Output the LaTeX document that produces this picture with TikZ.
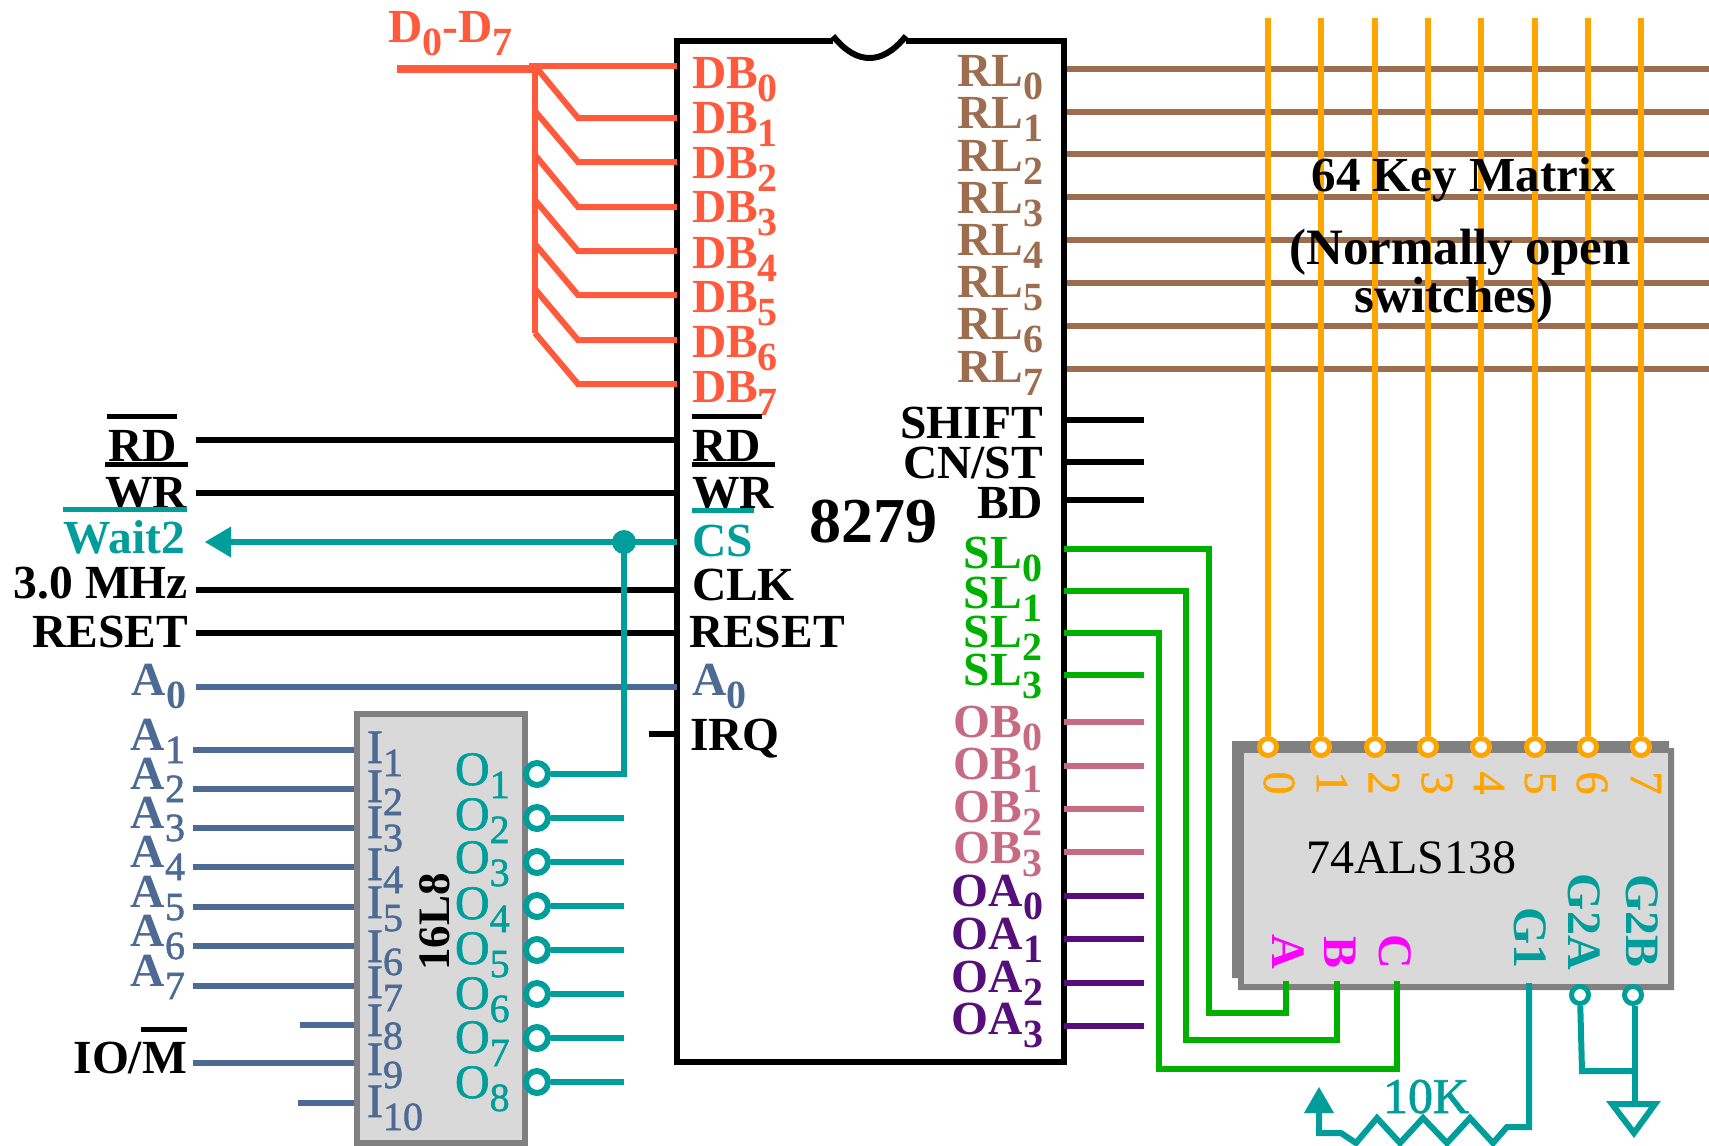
\documentclass[tikz,border=0pt]{standalone}
\usepackage{fontspec}
\setmainfont{Liberation Serif}
\newfontfamily\semifont[FakeBold=1.3]{Liberation Serif}
\definecolor{cred}{HTML}{FF5A3C}
\definecolor{cbrown}{HTML}{9C6D4E}
\definecolor{cteal}{HTML}{009E9A}
\definecolor{cblue}{HTML}{4C6A94}
\definecolor{cgreen}{HTML}{00B000}
\definecolor{cpink}{HTML}{C76B85}
\definecolor{cpurple}{HTML}{560E7A}
\definecolor{corange}{HTML}{FFA500}
\definecolor{cmag}{HTML}{FF00FF}
\definecolor{cgray}{HTML}{808080}
\definecolor{cfill}{HTML}{D9D9D9}
\newcommand\fsz[1]{\fontsize{#1}{#1}\selectfont}
\newcommand\sbs[1]{\raisebox{-13pt}{\fsz{40}#1}}
\newcommand\sbl[1]{\raisebox{-13pt}{\semifont\mdseries\fsz{40}#1}}
\tikzset{
  wire/.style={line width=6pt},
  lab/.style={inner sep=0pt,outer sep=0pt,font=\fsz{47.5}\bfseries},
  labL/.style={lab,anchor=base west},
  labR/.style={lab,anchor=base east},
  reg/.style={inner sep=0pt,outer sep=0pt,font=\fsz{48}},
  regs/.style={inner sep=0pt,outer sep=0pt,font=\semifont\fsz{48}},
  bubble/.style={circle,inner sep=0pt,minimum size=22pt,line width=6pt,fill=white},
  smallbub/.style={circle,inner sep=0pt,minimum size=17pt,line width=5pt,fill=white},
  tag/.style={line width=5pt}
}
\begin{document}
\begin{tikzpicture}[x=1pt,y=-1pt]
\useasboundingbox (0,0) rectangle (1709,1146);
\fill[white] (0,0) rectangle (1709,1146);
% ---- brown rows
\foreach \i/\y/\b in {0/69/86,1/112/128,2/154/171,3/197/213,4/240/255,5/283/297,6/326/339,7/369/382}{
  \coordinate (rlL\i) at (1064,\y);
  \coordinate (rlR\i) at (1709,\y);
  \draw[wire,cbrown] (rlL\i) -- (rlR\i);
  \node[labR,cbrown] (rl\i) at (1043,\b) {RL\sbs{\i}};
}
% ---- 74ALS138 body
\fill[cgray] (1232,741) -- (1669,741) -- (1669,748) -- (1674,748) -- (1674,990) -- (1238,990) -- (1238,978) -- (1232,978) -- cycle;
\fill[cfill] (1244,753) rectangle (1668,984);
\node[reg,anchor=base west] (dec) at (1306,873) {74ALS138};
% ---- orange columns
\foreach \i/\x/\t in {0/1268/1279,1/1321/1332,2/1375/1384,3/1428/1437,4/1481/1489,5/1535/1540,6/1588/1592,7/1641/1646}{
  \coordinate (colT\i) at (\x,18);
  \node[smallbub,draw=corange] (col\i) at (\x,747) {};
  \draw[wire,corange] (colT\i) -- (col\i);
  \node[inner sep=0pt,rotate=-90,text=corange,font=\semifont\fsz{46}] (dig\i) at (\t,783) {\i};
}
% ---- matrix caption
\node[inner sep=0pt,anchor=base,font=\fsz{49}\bfseries] (cap1) at (1464,191) {64 Key Matrix};
\node[inner sep=0pt,anchor=base,font=\fsz{51}\bfseries] (cap2) at (1460,264) {(Normally open};
\node[inner sep=0pt,anchor=base,font=\fsz{51}\bfseries] (cap3) at (1454,312) {switches)};
% ---- 8279 chip
\draw[line width=6pt,fill=none,line join=miter] (833,41) -- (677,41) -- (677,1062) -- (1064,1062) -- (1064,41) -- (906,41);
\draw[line width=6pt] (833,36) .. controls (846,52) and (858,58) .. (869.5,58) .. controls (881,58) and (893,52) .. (906,36);
\node[inner sep=0pt,anchor=base east,font=\fsz{64}\bfseries] (chip) at (937.5,542) {8279};
% ---- data bus
\coordinate (busL) at (397,69);
\coordinate (busJ) at (535,69);
\draw[line width=8pt,cred] (busL) -- (busJ);
\node[labL,cred] (dd) at (388,42) {D\sbs{0}-D\sbs{7}};
\coordinate (db0a) at (529,66);
\coordinate (db0b) at (677,66);
\draw[wire,cred] (db0a) -- (db0b);
\node[labL,cred] (db0) at (692,88) {DB\sbs{0}};
\coordinate (vtop) at (535,66);
\coordinate (vbot) at (535,333);
\draw[wire,cred] (vtop) -- (vbot);
\foreach \i/\s/\y/\b in {1/66/118/133,2/111/162/178,3/155/207/222,4/200/251/268,5/244/295/312,6/289/340/357,7/333/384/402}{
  \coordinate (dbS\i) at (535,\s);
  \coordinate (dbM\i) at (578,\y);
  \coordinate (dbE\i) at (677,\y);
  \draw[wire,cred,line join=miter] (dbS\i) -- (dbM\i) -- (dbE\i);
  \node[labL,cred] (db\i) at (692,\b) {DB\sbs{\i}};
}
% ---- left bus labels and wires
\foreach \n/\y in {rd/440,wr/493,clk/589.5,rst/633}{
  \coordinate (\n L) at (196,\y);
  \coordinate (\n R) at (677,\y);
  \draw[wire] (\n L) -- (\n R);
}
\node[labR] (lrd) at (177,461) {RD};
\node[labL] (prd) at (692,461) {RD};
\node[labR] (lwr) at (187,508) {WR};
\node[labL] (pwr) at (692,508) {WR};
\coordinate (a) at (107,416); \coordinate (b) at (177,416); \draw[tag] (a) -- (b);
\coordinate (a) at (105,464); \coordinate (b) at (188,464); \draw[tag] (a) -- (b);
\coordinate (a) at (692,416); \coordinate (b) at (762,416); \draw[tag] (a) -- (b);
\coordinate (a) at (692,464); \coordinate (b) at (775,464); \draw[tag] (a) -- (b);
\coordinate (a) at (63,509); \coordinate (b) at (187,509); \draw[tag,cteal] (a) -- (b);
\coordinate (a) at (692,510); \coordinate (b) at (754,510); \draw[tag,cteal] (a) -- (b);
\node[labR,cteal] (lwait) at (185,553) {Wait2};
\node[labL,cteal] (pcs) at (692,556) {CS};
\node[labR] (lclk) at (188,598) {3.0 MHz};
\node[labL] (pclk) at (692,600) {CLK};
\node[labR] (lrst) at (188,647) {RESET};
\node[labL] (prst) at (689,647) {RESET};
\coordinate (a0L) at (196,687);
\coordinate (a0R) at (677,687);
\draw[wire,cblue] (a0L) -- (a0R);
\node[labR,cblue] (la0) at (186,695) {A\sbs{0}};
\node[labL,cblue] (pa0) at (692,695) {A\sbs{0}};
\coordinate (irqL) at (649,734);
\coordinate (irqR) at (677,734);
\draw[wire] (irqL) -- (irqR);
\node[labL] (pirq) at (690,750) {IRQ};
% ---- right black pins
\foreach \n/\t/\y/\b in {sft/SHIFT/420/438,cst/CN\slash ST/462/478,bd/BD/500/518}{
  \coordinate (\n L) at (1064,\y);
  \coordinate (\n R) at (1144,\y);
  \draw[wire] (\n L) -- (\n R);
  \node[labR] (\n) at (1043,\b) {\t};
}
% ---- SL labels
\foreach \i/\b in {0/568,1/608,2/647,3/685}{
  \node[labR,cgreen] (sl\i) at (1042,\b) {SL\sbs{\i}};
}
% ---- OB, OA
\foreach \i/\y/\b in {0/722/737,1/766/779,2/809/822,3/852/863}{
  \coordinate (obL\i) at (1064,\y);
  \coordinate (obR\i) at (1144,\y);
  \draw[wire,cpink] (obL\i) -- (obR\i);
  \node[labR,cpink] (ob\i) at (1042,\b) {OB\sbs{\i}};
}
\foreach \i/\y/\b in {0/896/906,1/939/949,2/983/992,3/1026/1034}{
  \coordinate (oaL\i) at (1064,\y);
  \coordinate (oaR\i) at (1144,\y);
  \draw[wire,cpurple] (oaL\i) -- (oaR\i);
  \node[labR,cpurple] (oa\i) at (1043,\b) {OA\sbs{\i}};
}
% ---- 16L8
\node[draw=cgray,fill=cfill,line width=6pt,inner sep=0pt,outer sep=0pt,minimum width=168pt,minimum height=429pt,anchor=north west] (pal) at (357,714) {};
\node[inner sep=0pt,rotate=90,font=\fsz{45}\bfseries] (palname) at (435,922) {16L8};
\foreach \i/\y in {1/750,2/789,3/828,4/867,5/907,6/946,7/986}{
  \coordinate (aL\i) at (193,\y);
  \coordinate (aR\i) at (354,\y);
  \draw[wire,cblue] (aL\i) -- (aR\i);
  \node[labR,cblue] (la\i) at (185,\y) {A\sbl{\i}};
}
\coordinate (i8L) at (300,1025);  \coordinate (i8R) at (354,1025);  \draw[wire,cblue] (i8L) -- (i8R);
\coordinate (i9L) at (193,1063);  \coordinate (i9R) at (354,1063);  \draw[wire,cblue] (i9L) -- (i9R);
\coordinate (i10L) at (298,1103); \coordinate (i10R) at (354,1103); \draw[wire,cblue] (i10L) -- (i10R);
\node[labR] (lio) at (187,1073) {IO/M};
\coordinate (a) at (141,1029); \coordinate (b) at (187,1029); \draw[tag] (a) -- (b);
\foreach \i/\b in {1/763,2/802,3/838,4/880,5/918,6/962,7/998,8/1036,9/1075,10/1117}{
  \node[regs,anchor=base west,text=cblue] (pi\i) at (367,\b) {I\sbs{\i}};
}
\foreach \i/\y/\b in {1/774/785,2/818/830,3/862/873,4/906/919,5/950/964,6/994/1009,7/1038/1053,8/1082/1098}{
  \node[regs,anchor=base west,text=cteal] (po\i) at (455,\b) {O\sbs{\i}};
  \node[bubble,draw=cteal] (ob\i x) at (537,\y) {};
  \coordinate (oe\i) at (624,\y);
  \draw[wire,cteal] (ob\i x) -- (oe\i);
}
% ---- CS net
\coordinate (csR) at (677,542);
\coordinate (csJ) at (624,542);
\coordinate (csA) at (205,542);
\fill[cteal] (csJ) circle (12pt);
\draw[wire,cteal] (csR) -- (csJ) -- (228,542);
\fill[cteal] (csA) -- (231,526.5) -- (231,557.5) -- cycle;
\draw[wire,cteal,line join=miter] (csJ) -- (oe1) -- (ob1x);
% ---- SL wires
\coordinate (pA) at (1286,981);
\coordinate (pB) at (1337,981);
\coordinate (pC) at (1397,981);
\coordinate (slL0) at (1064,549);
\coordinate (slL1) at (1064,591);
\coordinate (slL2) at (1064,633);
\coordinate (slL3) at (1064,675);
\coordinate (slR3) at (1144,675);
\draw[wire,cgreen,line join=miter] (slL0) -| (1209,1013) -| (pA);
\draw[wire,cgreen,line join=miter] (slL1) -| (1186,1040) -| (pB);
\draw[wire,cgreen,line join=miter] (slL2) -| (1159,1069) -| (pC);
\draw[wire,cgreen] (slL3) -- (slR3);
\node[inner sep=0pt,rotate=-90,text=cmag,font=\fsz{48}\bfseries] (pinA) at (1288,952) {A};
\node[inner sep=0pt,rotate=-90,text=cmag,font=\fsz{48}\bfseries] (pinB) at (1340,952) {B};
\node[inner sep=0pt,rotate=-90,text=cmag,font=\fsz{48}\bfseries] (pinC) at (1395,952) {C};
% ---- G pins
\node[inner sep=0pt,rotate=-90,anchor=east,text=cteal,font=\fsz{48}\bfseries] (g1) at (1530,969) {G1};
\node[inner sep=0pt,rotate=-90,anchor=east,text=cteal,font=\fsz{48}\bfseries] (g2a) at (1584,970) {G2A};
\node[inner sep=0pt,rotate=-90,anchor=east,text=cteal,font=\fsz{48}\bfseries] (g2b) at (1642,968) {G2B};
\coordinate (g1p) at (1529,983);
\coordinate (rs) at (1319,1110);
\draw[wire,cteal,line join=miter] (g1p) -- (1529,1127) -- (1507,1127) -- (1493,1143) -- (1470,1118) -- (1447,1143) -- (1423,1118) -- (1400,1143) -- (1377,1118) -- (1356,1143) -- (1341,1133) -- (1319,1133) -- (rs);
\fill[cteal] (1319,1087) -- (1334,1113) -- (1304,1113) -- cycle;
\node[regs,anchor=base west,text=cteal,font=\semifont\fsz{50}] (tenk) at (1383,1113) {10K};
\node[smallbub,draw=cteal] (ga) at (1580,995) {};
\node[smallbub,draw=cteal] (gb) at (1633,995) {};
\coordinate (gj) at (1635,1071);
\draw[wire,cteal,line join=miter] (ga) -- (1582,1071) -- (gj);
\draw[wire,cteal] (gb.south) ++(2,0) -- (gj);
\coordinate (gt) at (1635,1104);
\draw[wire,cteal] (gj) -- (gt);
\draw[wire,cteal,line join=miter] (1612,1104) -- (1655,1104) -- (1634,1133) -- cycle;
\end{tikzpicture}
\end{document}
